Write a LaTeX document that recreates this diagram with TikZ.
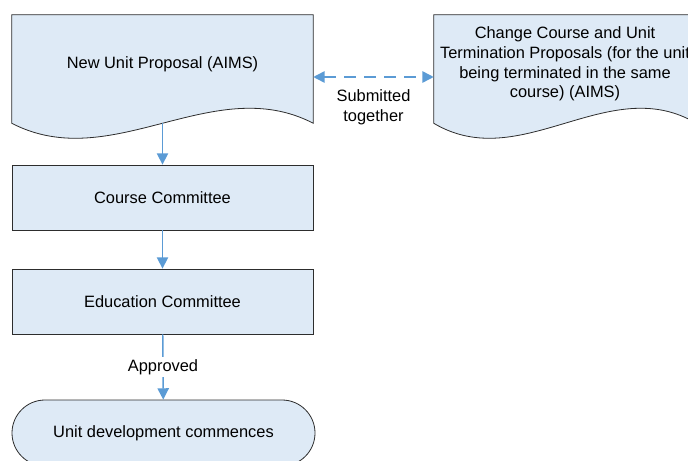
\documentclass[tikz,border=0pt]{standalone}
\usepackage{fontspec}
\setmainfont{Liberation Sans}
\usepackage{tikz}
\usetikzlibrary{arrows.meta,positioning,calc,backgrounds}
\definecolor{bleuforme}{RGB}{222,234,246}
\definecolor{bleufleche}{RGB}{91,155,213}
\definecolor{bordforme}{RGB}{45,45,45}
% contour d'une forme document (bas ondule)
\newcommand{\ContourDocument}[1]{%
\draw[forme] (#1.north west) -- (#1.north east) -- ($(#1.south east)+(0,10)$)
  .. controls ($(#1.south east)!0.333!(#1.south west)+(0,-42)$) and ($(#1.south east)!0.667!(#1.south west)+(0,62)$) .. ($(#1.south west)+(0,10)$) -- cycle;}

\begin{document}
\begin{tikzpicture}[x=0.75pt,y=-0.75pt]
\tikzstyle{fleche}=[-{Triangle[length=8.5pt,width=8.5pt]},line width=1.1pt,draw=bleufleche]
\tikzstyle{texte}=[font=\fontsize{12.3}{14.8}\selectfont,align=center]
\tikzstyle{forme}=[draw=bordforme,fill=bleuforme,line width=0.6pt]
\tikzstyle{document}=[texte,minimum width=225.75pt,minimum height=73.5pt,inner sep=0pt]
\tikzstyle{boite}=[texte,forme,minimum width=225.75pt,minimum height=48.75pt]
\tikzstyle{terminal}=[boite,rounded corners=24.75pt,minimum width=227.25pt,minimum height=49.5pt]
\tikzstyle{etiquette}=[texte,fill=white,inner sep=2pt]
\def\ColonneA{162.5}
\def\ColonneB{565}
\def\RangA{64}
\def\RangB{197.5}
\def\RangC{301.5}
\def\RangD{433}
\useasboundingbox (0,0) rectangle (688,460);
\clip (0,0) rectangle (688,460);
\node[document] (NouvelleUnite) at (\ColonneA,\RangA) {New Unit Proposal (AIMS)};
\node[document,minimum width=196.5pt] (Resiliation) at (\ColonneB,\RangA) {Change Course and Unit\\Termination Proposals (for the unit\\being terminated in the same\\course) (AIMS)};
\begin{scope}[on background layer]
\ContourDocument{NouvelleUnite}
\ContourDocument{Resiliation}
\end{scope}
\node[boite] (ComiteCours) at (\ColonneA,\RangB) {Course Committee};
\node[boite] (ComiteEducation) at (\ColonneA,\RangC) {Education Committee};
\node[terminal] (Debut) at (163.5,\RangD) {Unit development commences};
\coordinate (NouvelleUniteBas) at ($(NouvelleUnite.south)+(0,10)$);
\draw[fleche] (NouvelleUniteBas) -- (ComiteCours);
\draw[fleche] (ComiteCours) -- (ComiteEducation);
\draw[fleche] (ComiteEducation) -- node[etiquette] {Approved} (Debut);
\draw[fleche,{Triangle[length=8.5pt,width=8.5pt]}-{Triangle[length=8.5pt,width=8.5pt]},dash pattern=on 9pt off 6pt]
  ([yshift=-9.75pt]NouvelleUnite.east) -- node[texte,midway,yshift=-22.5pt] {Submitted\\together} ([yshift=-9.75pt]Resiliation.west);
\end{tikzpicture}
\end{document}
